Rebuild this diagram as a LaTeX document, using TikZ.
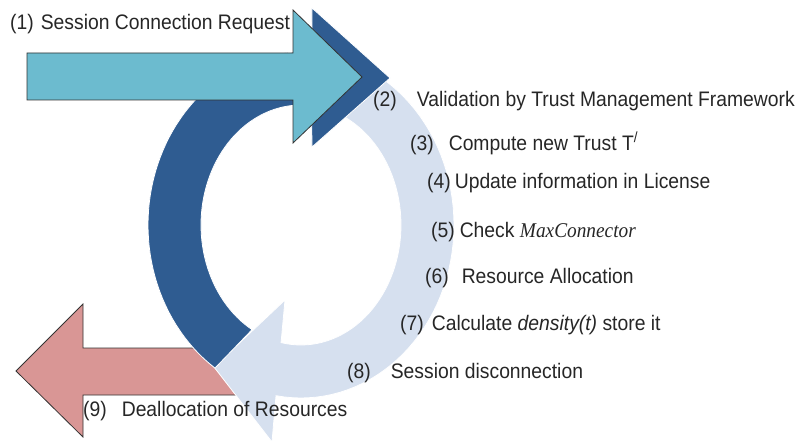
\documentclass[tikz,border=0pt]{standalone}
\usepackage{fontspec}
\setmainfont{Liberation Sans}[FakeStretch=0.92]
\newfontfamily\tnrfont{Liberation Serif}[FakeStretch=0.92]
\definecolor{reqblue}{HTML}{6CBBCF}
\definecolor{ringdark}{HTML}{2F5C91}
\definecolor{ringlight}{HTML}{D6E0EF}
\definecolor{freepink}{HTML}{D99695}
\definecolor{txtgray}{HTML}{262626}
\tikzset{
  lbl/.style={anchor=base west, inner sep=0pt, text=txtgray, font=\fontsize{21}{24}\selectfont},
  flatarrow/.style={draw=black!80, line width=0.8pt, line join=miter},
  ringpart/.style={draw=white, line width=0.8pt},
}
\begin{document}
\begin{tikzpicture}[x=1pt, y=-1pt]
      \useasboundingbox (0,0) rectangle (798,441);
      % Outgoing arrow (9)
      \path[flatarrow, fill=freepink] (250,348) -- (83,348) -- (83,304) -- (16,371) -- (83,437) -- (83,395) -- (250,395) -- cycle;
      % Light ring, ending in its head at the bottom
      \path[ringpart, fill=ringlight] plot[domain=-78:99.4, samples=60] ({301+153*cos(\x)},{225+173*sin(\x)})
        -- (272,442) -- (214,367) -- (285,300)
        -- plot[domain=101.5:-76, samples=60] ({301+100*cos(\x)},{225+120*sin(\x)}) -- cycle;
      % Dark ring, ending in its head at (2)
      \path[ringpart, fill=ringdark] plot[domain=124.2:274, samples=60] ({301+153*cos(\x)},{225+173*sin(\x)})
        -- (312,8) -- (390,78) -- (312,147)
        -- plot[domain=276:119.3, samples=60] ({301+100*cos(\x)},{225+120*sin(\x)}) -- cycle;
      % Incoming arrow (1)
      \path[flatarrow, fill=reqblue] (27,53) -- (293,53) -- (293,10) -- (362,77) -- (293,143) -- (293,100) -- (27,100) -- cycle;
      % Steps
      \node[lbl] (s1) at (10,30) {(1)\hspace{7pt}Session Connection Request};
      \node[lbl] (s2) at (373,107) {(2)\hspace{20pt}Validation by Trust Management Framework};
      \node[lbl] (s3) at (410,150) {(3)\hspace{15pt}Compute new Trust T\textsuperscript{/}};
      \node[lbl] (s4) at (427,188) {(4)\hspace{4pt}Update information in License};
      \node[lbl] (s5) at (431,237) {(5)\hspace{5pt}Check {\tnrfont\itshape MaxConnector}};
      \node[lbl] (s6) at (425,283) {(6)\hspace{13pt}Resource Allocation};
      \node[lbl] (s7) at (400,330) {(7)\hspace{8pt}Calculate \textit{density(t)} store it};
      \node[lbl] (s8) at (347,378) {(8)\hspace{20pt}Session disconnection};
      \node[lbl] (s9) at (83,416) {(9)\hspace{15pt}Deallocation of Resources};
\end{tikzpicture}
\end{document}
